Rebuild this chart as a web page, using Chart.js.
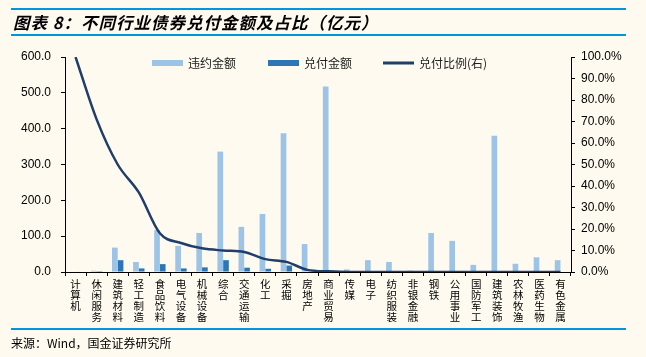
<!DOCTYPE html>
<html>
<head>
<meta charset="utf-8">
<script src="https://cdn.jsdelivr.net/npm/chart.js@4"></script>
<style>
  body { margin: 0; background: #FFFAEF; width: 646px; height: 357px; overflow: hidden; position: relative; }
  #c { position: absolute; left: 0; top: 0; }
  .rule { position: absolute; left: 11px; width: 615px; height: 2px; background: #0096DF; }
  .title { position: absolute; left: 13px; top: 10px; font: italic bold 16.5px "Noto Sans CJK SC"; letter-spacing: 1px; color: #000; white-space: nowrap; }
  .source { position: absolute; left: 11px; top: 334px; font: 12px "Noto Sans CJK SC"; color: #000; white-space: nowrap; }
</style>
</head>
<body>
<canvas id="c" width="646" height="357"></canvas>
<div class="rule" style="top:8px"></div>
<div class="title">图表 8：不同行业债券兑付金额及占比（亿元）</div>
<div class="rule" style="top:34px"></div>
<div class="rule" style="top:328px"></div>
<div class="source">来源：Wind，国金证券研究所</div>
<script>
// industries
var categories = ['计算机', '休闲服务', '建筑材料', '轻工制造', '食品饮料', '电气设备', '机械设备', '综合',
  '交通运输', '化工', '采掘', '房地产', '商业贸易', '传媒', '电子', '纺织服装', '非银金融', '钢铁',
  '公用事业', '国防军工', '建筑装饰', '农林牧渔', '医药生物', '有色金属'];

// 违约金额 (亿元)
var defaultAmount = [1.5, 3.5, 68, 28, 117, 73, 109, 336, 126, 162, 387, 78, 518, 7, 33, 28, 4, 109,
  87, 20, 380, 23, 41, 33];

// 兑付金额 (亿元)
var paidAmount = [1.5, 2.5, 33, 10, 22, 10, 13, 33, 12, 9, 18, 0.8, 1.5, 0, 0, 0, 0, 0,
  0, 0, 0, 0, 0, 0];

// 兑付比例 (%)
var paidRatio = [100, 71, 50, 37, 18, 13.5, 11, 10, 9.3, 6, 4.7, 1, 0.3, 0, 0, 0, 0, 0,
  0, 0, 0, 0, 0, 0];

var leftTicks = [0, 100, 200, 300, 400, 500, 600];
var rightTicks = [0, 10, 20, 30, 40, 50, 60, 70, 80, 90, 100];

var lightBlue = '#9DC3E6';
var darkBlue = '#2E75B6';
var navy = '#1F3E6B';
var cjk = '"Noto Sans CJK SC"';
var latin = '"Liberation Sans", Arial';

// legend drawn inside the plot, like the original
var legendPlugin = {
  id: 'topLegend',
  afterDraw: function (chart) {
    var ctx = chart.ctx;
    var y = 63;
    var items = [
      { x: 152, text: '违约金额', color: lightBlue, line: false },
      { x: 268, text: '兑付金额', color: darkBlue, line: false },
      { x: 383, text: '兑付比例(右)', color: navy, line: true }
    ];
    ctx.save();
    items.forEach(function (it) {
      ctx.fillStyle = it.color;
      if (it.line) ctx.fillRect(it.x, y - 1.5, 31, 3);
      else ctx.fillRect(it.x, y - 3, 31, 6);
      ctx.fillStyle = '#222';
      ctx.font = '12px ' + cjk;
      ctx.textBaseline = 'middle';
      ctx.fillText(it.text, it.x + 36, y);
    });
    ctx.restore();
  }
};

var ctx = document.getElementById('c').getContext('2d');

var myChart = new Chart(ctx, {
  type: 'bar',
  data: {
    labels: categories.map(function (c) { return c.split(''); }),
    datasets: [
      {
        type: 'line',
        label: '兑付比例(右)',
        data: paidRatio,
        yAxisID: 'y1',
        borderColor: navy,
        borderWidth: 2.5,
        pointRadius: 0,
        cubicInterpolationMode: 'monotone',
        fill: false,
        order: 0
      },
      {
        label: '违约金额',
        data: defaultAmount,
        backgroundColor: lightBlue,
        yAxisID: 'y',
        categoryPercentage: 0.54,
        barPercentage: 1.0,
        order: 1
      },
      {
        label: '兑付金额',
        data: paidAmount,
        backgroundColor: darkBlue,
        yAxisID: 'y',
        categoryPercentage: 0.54,
        barPercentage: 1.0,
        order: 1
      }
    ]
  },
  options: {
    responsive: false,
    devicePixelRatio: 1,
    animation: false,
    layout: { padding: { top: 57, bottom: 32, left: 0, right: 0 } },
    plugins: {
      legend: { display: false },
      tooltip: { enabled: false }
    },
    scales: {
      x: {
        grid: { drawOnChartArea: false, drawTicks: true, tickLength: 4, color: '#000', offset: true },
        border: { color: '#000', width: 1 },
        ticks: {
          autoSkip: false, maxRotation: 0, minRotation: 0, padding: 3,
          color: '#000',
          font: { family: cjk, size: 10.5, lineHeight: '11px' }
        },
        afterFit: function (s) { s.height = 53; }
      },
      y: {
        position: 'left',
        min: 0, max: 600,
        afterBuildTicks: function (s) { s.ticks = leftTicks.map(function (v) { return { value: v }; }); },
        grid: { drawOnChartArea: false, tickLength: 4, color: '#000' },
        border: { color: '#000', width: 1 },
        ticks: {
          padding: 10, color: '#000',
          font: { family: latin, size: 12 },
          callback: function (v) { return v.toFixed(1); }
        },
        afterFit: function (s) { s.width = 65; }
      },
      y1: {
        position: 'right',
        min: 0, max: 100,
        afterBuildTicks: function (s) { s.ticks = rightTicks.map(function (v) { return { value: v }; }); },
        grid: { drawOnChartArea: false, tickLength: 4, color: '#000' },
        border: { color: '#000', width: 1 },
        ticks: {
          padding: 6, color: '#000',
          font: { family: latin, size: 12 },
          callback: function (v) { return v.toFixed(1) + '%'; }
        },
        afterFit: function (s) { s.width = 75; }
      }
    }
  },
  plugins: [legendPlugin]
});
</script>
</body>
</html>
